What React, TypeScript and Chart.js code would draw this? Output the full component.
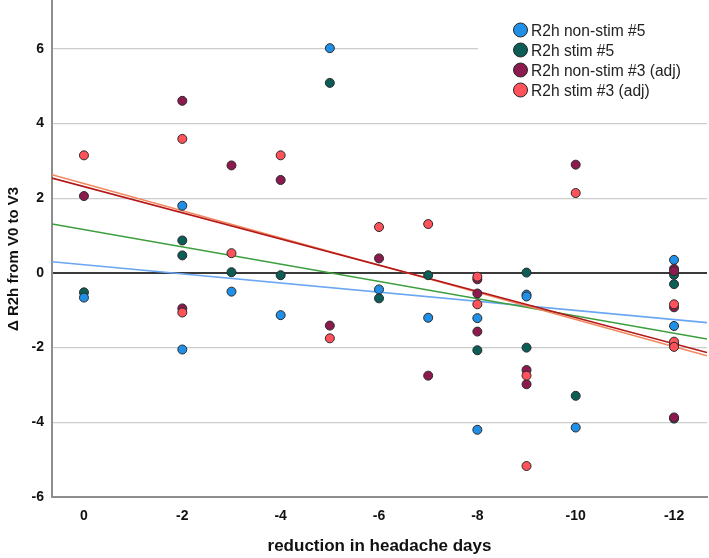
import React, { useEffect, useRef } from "react";
import { Chart, registerables } from "chart.js";

Chart.register(...registerables);

// ---------- data ----------
const legendLabels = [
  "R2h non-stim #5",
  "R2h stim #5",
  "R2h non-stim #3 (adj)",
  "R2h stim #3 (adj)",
];
const xTitle = "reduction in headache days";
const yTitle = "\u0394 R2h from V0 to V3";

const xTickValues = [0, -2, -4, -6, -8, -10, -12];
const yTickValues = [-6, -4, -2, 0, 2, 4, 6];

const nonStim5X = [0, -2, -2, -3, -4, -5, -6, -7, -8, -8, -9, -9, -10, -12, -12];
const nonStim5Y = [-0.66, 1.8, -2.05, -0.5, -1.13, 6.02, -0.44, -1.2, -1.21, -4.2, -0.58, -0.63, -4.14, 0.35, -1.42];

const stim5X = [0, -2, -2, -3, -4, -5, -6, -7, -8, -9, -9, -10, -12, -12, -12];
const stim5Y = [-0.52, 0.87, 0.47, 0.02, -0.06, 5.09, -0.68, -0.06, -2.07, 0.01, -2.0, -3.29, -0.05, -0.3, -3.9];

const nonStim3X = [0, -2, -2, -3, -4, -5, -6, -7, -8, -8, -8, -9, -9, -10, -12, -12, -12, -12, -12];
const nonStim3Y = [2.06, 4.61, -0.95, 2.88, 2.49, -1.41, 0.39, -2.75, -0.17, -0.55, -1.57, -2.6, -2.98, 2.9, 0.11, 0.05, -0.92, -1.91, -3.87];

const stim3X = [0, -2, -2, -3, -4, -5, -6, -7, -8, -8, -9, -9, -10, -12, -12, -12];
const stim3Y = [3.15, 3.59, -1.06, 0.53, 3.15, -1.75, 1.23, 1.31, -0.1, -0.84, -2.75, -5.17, 2.14, -0.84, -1.84, -1.98];

// regression (fit) lines: y-values at the two ends of the x range
const xRange = [0.65, -12.67];
const yRange = [-6, 7.31];
const fitNonStim5 = [0.3, -1.33];
const fitStim5 = [1.31, -1.77];
const fitNonStim3 = [2.54, -2.13];
const fitStim3 = [2.63, -2.22];

// ---------- styles ----------
const pointColors = ["#1f8fe8", "#0b5d56", "#8c1a4e", "#ff525a"];
const lineColors = ["#6aa6f2", "#3c9e3c", "#b41818", "#f3855c"];
const FONT = "'Liberation Sans', Arial, Helvetica, sans-serif";

const toPts = (xs: number[], ys: number[]) => xs.map((x, i) => ({ x, y: ys[i] }));

const overlayPlugin = {
  id: "overlay",
  beforeDatasetsDraw(chart: any) {
    const c = chart.ctx;
    c.save();
    c.fillStyle = "#ffffff";
    c.fillRect(478, 16, 229, 86);
    c.restore();
  },
  afterDraw(chart: any) {
    const c = chart.ctx;
    c.save();
    // legend
    const rows = [30, 50, 70, 90];
    legendLabels.forEach((label, i) => {
      c.beginPath();
      c.arc(520.5, rows[i], 7, 0, Math.PI * 2);
      c.fillStyle = pointColors[i];
      c.fill();
      c.lineWidth = 1;
      c.strokeStyle = "#2a2a2a";
      c.stroke();
      c.fillStyle = "#222";
      c.font = `15.6px ${FONT}`;
      c.textAlign = "left";
      c.textBaseline = "middle";
      c.fillText(label, 531, rows[i] + 1.5);
    });
    // y-axis title
    c.translate(14, 259);
    c.rotate(-Math.PI / 2);
    c.font = `bold 15px ${FONT}`;
    c.fillStyle = "#111";
    c.textAlign = "center";
    c.textBaseline = "middle";
    c.fillText(yTitle, 0, 0);
    c.restore();
  },
};

export default function App() {
  const ref = useRef<HTMLCanvasElement>(null);

  useEffect(() => {
    const canvas = ref.current;
    if (!canvas) return;
    const scatterSets = [
      [nonStim5X, nonStim5Y, 2],
      [stim5X, stim5Y, 3],
      [nonStim3X, nonStim3Y, 1],
      [stim3X, stim3Y, 0],
    ].map(([xs, ys, ord], i) => ({
      type: "scatter" as const,
      label: legendLabels[i],
      data: toPts(xs as number[], ys as number[]),
      backgroundColor: pointColors[i],
      borderColor: "#2a2a2a",
      borderWidth: 1,
      pointRadius: 4.5,
      showLine: false,
      order: ord as number,
    }));
    const fits = [fitNonStim5, fitStim5, fitNonStim3, fitStim3];
    const fitOrder = [13, 12, 10, 11];
    const lineSets = fits.map((f, i) => ({
      type: "scatter" as const,
      label: legendLabels[i] + " fit",
      data: [
        { x: xRange[0], y: f[0] },
        { x: xRange[1], y: f[1] },
      ],
      borderColor: lineColors[i],
      backgroundColor: lineColors[i],
      borderWidth: 1.6,
      pointRadius: 0,
      showLine: true,
      order: fitOrder[i],
    }));

    const chart = new Chart(canvas, {
      type: "scatter",
      data: { datasets: [...scatterSets, ...lineSets] as any },
      options: {
        responsive: false,
        animation: false,
        layout: { autoPadding: false, padding: { left: 0, right: 2, top: 0, bottom: 0 } },
        plugins: { legend: { display: false }, tooltip: { enabled: false } },
        scales: {
          x: {
            type: "linear",
            reverse: true,
            min: xRange[1],
            max: xRange[0],
            afterFit: (s: any) => {
              s.height = 61;
              s.paddingLeft = 0;
              s.paddingRight = 0;
            },
            afterBuildTicks: (s: any) => {
              s.ticks = xTickValues.map((v) => ({ value: v }));
            },
            grid: { display: false, drawTicks: false },
            border: { display: true, color: "#8e8e8e", width: 2 },
            ticks: {
              padding: 11,
              color: "#111",
              font: { family: FONT, size: 14, weight: "bold" },
              callback: (v: any) => String(v),
            },
            title: {
              display: true,
              text: xTitle,
              color: "#111",
              font: { family: FONT, size: 17, weight: "bold" },
              padding: { top: 0, bottom: 1 },
            },
          },
          y: {
            type: "linear",
            min: yRange[0],
            max: yRange[1],
            afterFit: (s: any) => {
              s.width = 52;
              s.paddingTop = 0;
              s.paddingBottom = 0;
            },
            afterBuildTicks: (s: any) => {
              s.ticks = yTickValues.map((v) => ({ value: v }));
            },
            grid: {
              drawTicks: false,
              color: (ctx: any) =>
                ctx.tick && ctx.tick.value === 0
                  ? "#3a3a3a"
                  : ctx.tick && ctx.tick.value === yRange[0]
                  ? "rgba(0,0,0,0)"
                  : "#cccccc",
              lineWidth: (ctx: any) => (ctx.tick && ctx.tick.value === 0 ? 2 : 1.3),
            },
            border: { display: true, color: "#8e8e8e", width: 2 },
            ticks: {
              padding: 8,
              color: "#111",
              font: { family: FONT, size: 14, weight: "bold" },
              callback: (v: any) => String(v),
            },
          },
        },
      },
      plugins: [overlayPlugin],
    });
    return () => chart.destroy();
  }, []);

  return (
    <div style={{ position: "absolute", left: 0, top: 0, width: 709, height: 558, background: "#fff" }}>
      <canvas ref={ref} width={709} height={558} style={{ display: "block" }} />
    </div>
  );
}
